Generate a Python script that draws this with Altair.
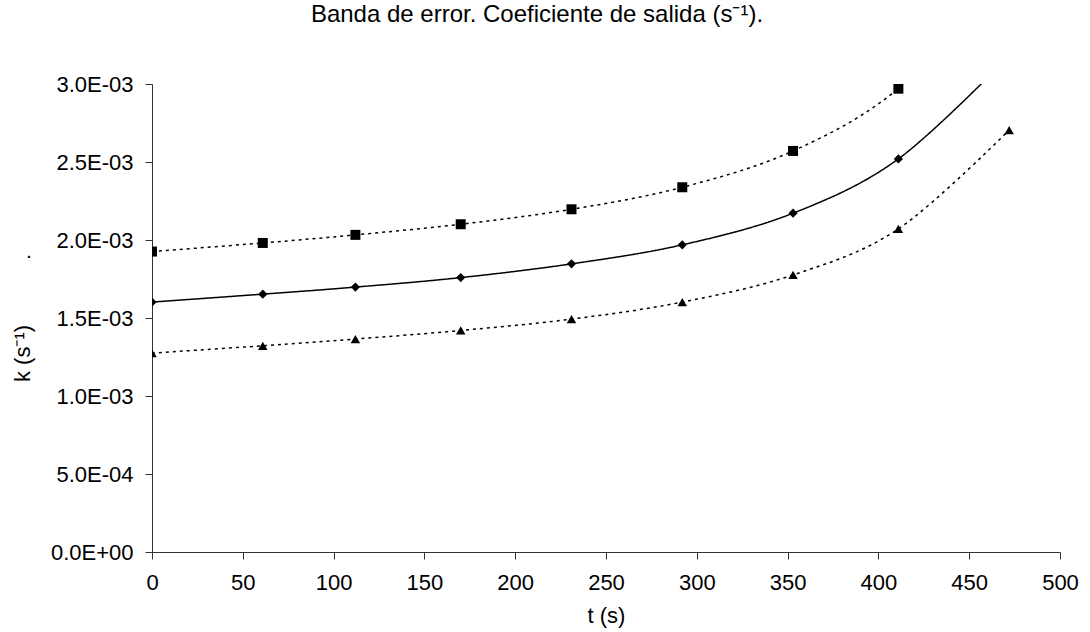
import altair as alt
import pandas as pd

# Data
t_s = [0, 61, 112, 170, 231, 292, 353, 411, 472]
k_upper = [1.926, 1.981, 2.033, 2.101, 2.197, 2.338, 2.571, 2.970, 3.70]   # x 1e-3 (squares)
k_central = [1.602, 1.653, 1.698, 1.759, 1.847, 1.969, 2.172, 2.520, 3.18]  # x 1e-3 (diamonds)
k_lower = [1.275, 1.322, 1.365, 1.420, 1.493, 1.602, 1.776, 2.071, 2.705]  # x 1e-3 (triangles)

x_ticks = [0, 50, 100, 150, 200, 250, 300, 350, 400, 450, 500]
y_ticks = [0, 0.0005, 0.001, 0.0015, 0.002, 0.0025, 0.003]

series = [
    ("superior", k_upper, "square", [3, 4], 100),
    ("central", k_central, "diamond", [1, 0], 85),
    ("inferior", k_lower, "triangle-up", [3, 4], 90),
]

rows = []
for name, vals, _, _, _ in series:
    for t, k in zip(t_s, vals):
        rows.append({"t": t, "k": k * 1e-3, "serie": name})
df = pd.DataFrame(rows)

FONT = "Liberation Sans"
AX = "#333333"

label_expr = (
    "datum.value == 0 ? '0.0E+00' : "
    "format(datum.value / pow(10, floor(log(datum.value) / LN10 + 1e-9)), '.1f') + 'E-' + "
    "format(-floor(log(datum.value) / LN10 + 1e-9), '02d')"
)

x_enc = alt.X(
    "t:Q",
    scale=alt.Scale(domain=[0, 500], nice=False, zero=False),
    axis=alt.Axis(
        values=x_ticks, title="t (s)", grid=False, tickSize=7, labelPadding=13,
        labelFontSize=22, titleFontSize=22, titleFontWeight="normal",
        labelFlush=False, labelOverlap=False,
        domainColor=AX, tickColor=AX, labelColor="black", titleColor="black",
        titleY=63, titleBaseline="middle", labelFont=FONT, titleFont=FONT,
    ),
)
y_enc = alt.Y(
    "k:Q",
    scale=alt.Scale(domain=[0, 0.003], nice=False),
    axis=alt.Axis(
        values=y_ticks, labelExpr=label_expr, title="k (s⁻¹)", grid=False,
        tickSize=7, labelPadding=12, labelFontSize=22, titleFontSize=22,
        titleFontWeight="normal", domainColor=AX, tickColor=AX,
        labelFlush=False, labelOverlap=False,
        labelColor="black", titleColor="black", titleX=-130, titleY=269,
        titleAngle=-90, titleAlign="center", titleBaseline="middle",
        labelFont=FONT, titleFont=FONT,
    ),
)

layers = []
for name, _, shape, dash, size in series:
    base = alt.Chart(df).transform_filter(alt.datum.serie == name)
    layers.append(
        base.mark_line(color="black", strokeWidth=1.5, strokeDash=dash,
                       interpolate="cardinal", tension=0, clip=True)
        .encode(x=x_enc, y=y_enc)
    )
    layers.append(
        base.mark_point(shape=shape, filled=True, size=size, color="black",
                        opacity=1, clip=True)
        .encode(x=x_enc, y=y_enc)
    )

dot = alt.Chart(pd.DataFrame({"s": ["."]})).mark_text(
    font=FONT, fontSize=21, color="black", baseline="alphabetic", align="center"
).encode(text="s:N", x=alt.value(-123), y=alt.value(174))
layers.append(dot)

chart = alt.layer(*layers).properties(
    width=908,
    height=468,
    autosize=alt.AutoSizeParams(type="none"),
    padding={"left": 152, "top": 84, "right": 30, "bottom": 80},
    title=alt.TitleParams(
        "Banda de error. Coeficiente de salida (s⁻¹).",
        font=FONT, fontSize=24, fontWeight="normal", color="black",
        anchor="middle", dx=-69, offset=46,
    ),
).configure_view(stroke=None)

chart.save("out.html", embed_options={"renderer": "svg", "actions": False})
